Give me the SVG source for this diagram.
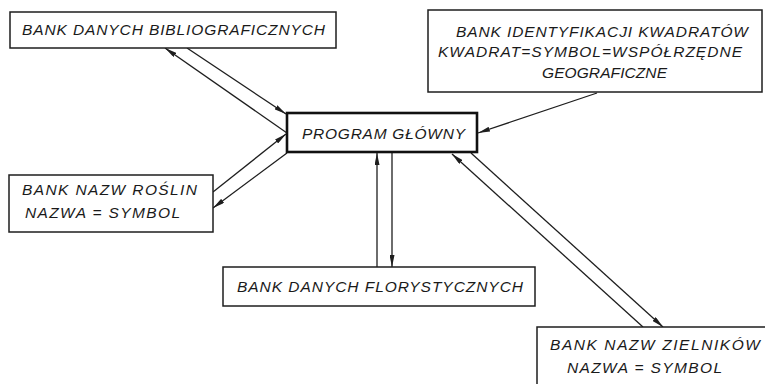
<svg xmlns="http://www.w3.org/2000/svg" width="765" height="384" viewBox="0 0 765 384">
  <style>
    .box { fill: #ffffff; stroke: #1e1e1e; stroke-width: 1.5; }
    .main { fill: #ffffff; stroke: #111111; stroke-width: 2.6; }
    .lbl { font-family: "Liberation Sans", Arial, sans-serif; font-style: italic; font-size: 15.5px; fill: #1a1a1a; }
    .conn { stroke: #1e1e1e; stroke-width: 1.3; fill: none; marker-end: url(#ah); }
  </style>
  <defs>
    <marker id="ah" viewBox="0 0 12 5" markerWidth="12" markerHeight="5" refX="12" refY="2.5" orient="auto" markerUnits="userSpaceOnUse">
      <path d="M0,0 L12,2.5 L0,5 z" fill="#1e1e1e"/>
    </marker>
  </defs>
  <rect width="765" height="384" fill="#ffffff"/>

  <g id="connectors">
    <line class="conn" x1="287" y1="133" x2="165" y2="48"/>
    <line class="conn" x1="187" y1="48" x2="286" y2="114"/>
    <line class="conn" x1="213" y1="192" x2="286" y2="134"/>
    <line class="conn" x1="287" y1="153" x2="213" y2="208"/>
    <line class="conn" x1="597" y1="93" x2="478" y2="133"/>
    <line class="conn" x1="377" y1="267" x2="377" y2="153"/>
    <line class="conn" x1="392" y1="153" x2="392" y2="267"/>
    <line class="conn" x1="643" y1="327" x2="452" y2="154"/>
    <line class="conn" x1="471" y1="153" x2="663" y2="327"/>
  </g>

  <g id="bank-bibliograficzny">
    <rect class="box" x="10" y="12" width="326" height="36"/>
    <text class="lbl" x="22" y="35" textLength="303" lengthAdjust="spacing">BANK DANYCH BIBLIOGRAFICZNYCH</text>
  </g>

  <g id="bank-kwadratow">
    <rect class="box" x="428" y="10" width="334" height="82"/>
    <text class="lbl" x="456" y="37" textLength="292" lengthAdjust="spacing">BANK IDENTYFIKACJI KWADRATÓW</text>
    <text class="lbl" x="438" y="57" textLength="304" lengthAdjust="spacing">KWADRAT=SYMBOL=WSPÓŁRZĘDNE</text>
    <text class="lbl" x="542" y="78" textLength="125" lengthAdjust="spacing">GEOGRAFICZNE</text>
  </g>

  <g id="program-glowny">
    <rect class="main" x="287" y="113" width="190" height="39"/>
    <text class="lbl" x="302" y="139" textLength="163" lengthAdjust="spacing">PROGRAM GŁÓWNY</text>
  </g>

  <g id="bank-roslin">
    <rect class="box" x="9" y="175" width="204" height="57"/>
    <text class="lbl" x="22" y="195" textLength="175" lengthAdjust="spacing">BANK NAZW ROŚLIN</text>
    <text class="lbl" x="25" y="218" textLength="155" lengthAdjust="spacing">NAZWA = SYMBOL</text>
  </g>

  <g id="bank-florystyczny">
    <rect class="box" x="223" y="267" width="312" height="39"/>
    <text class="lbl" x="237" y="292" textLength="286" lengthAdjust="spacing">BANK DANYCH FLORYSTYCZNYCH</text>
  </g>

  <g id="bank-zielnikow">
    <rect class="box" x="537" y="327" width="240" height="70"/>
    <text class="lbl" x="550" y="350" textLength="210" lengthAdjust="spacing">BANK NAZW ZIELNIKÓW</text>
    <text class="lbl" x="567" y="373" textLength="155" lengthAdjust="spacing">NAZWA = SYMBOL</text>
  </g>
</svg>
